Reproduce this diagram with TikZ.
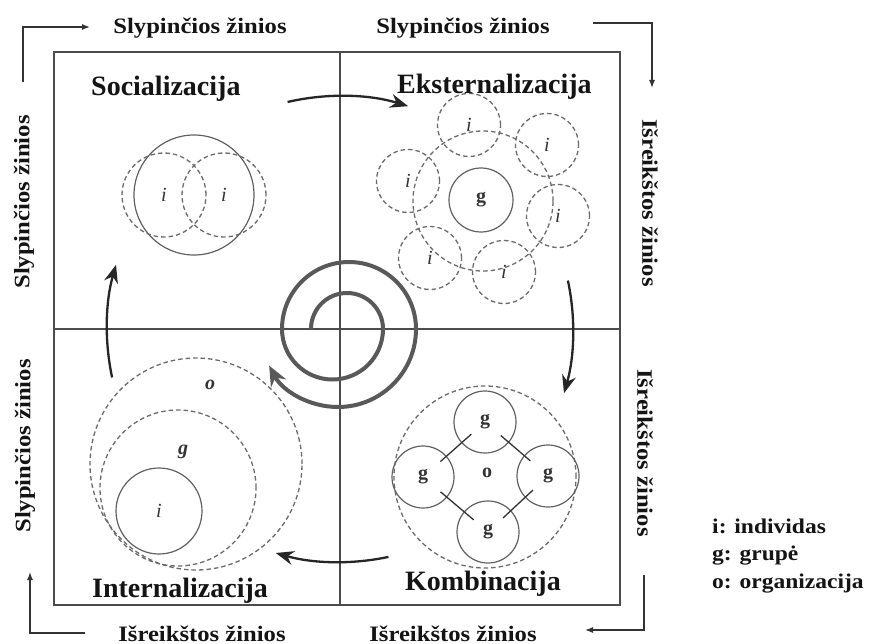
\documentclass[tikz,border=0pt]{standalone}
\usepackage{fontspec}
\setmainfont{Liberation Serif}
\newfontfamily\axf[FakeStretch=1.12]{Liberation Serif}
\usetikzlibrary{arrows.meta,calc}
\begin{document}
\begin{tikzpicture}[x=1pt,y=-1pt,
  frameline/.style={draw=black!70,line width=1.1pt},
  solidc/.style={circle,draw=black!62,line width=1.2pt,inner sep=0pt,font=\fontsize{20}{20}\selectfont,text=black!80},
  dashc/.style={circle,draw=black!58,line width=1.3pt,dash pattern=on 4.5pt off 3pt,inner sep=0pt,font=\fontsize{20}{20}\selectfont,text=black!80},
  ttl/.style={font=\fontsize{28}{30}\selectfont\bfseries,anchor=base west,text=black!92,inner sep=0pt},
  axislab/.style={font=\axf\fontsize{22}{24}\selectfont\bfseries,text=black!92,inner sep=0pt},
  leg/.style={font=\axf\fontsize{21}{24}\selectfont\bfseries,text=black!92,anchor=base west,inner sep=0pt},
  cornerarrow/.style={draw=black!80,line width=1.3pt,-{Latex[length=8pt,width=6pt]}},
  cyc/.style={draw=black!85,line width=2.3pt,-{Stealth[length=18pt,width=14pt]}},
  spiralline/.style={draw=black!65,line width=4pt,-{Stealth[length=20pt,width=17pt]}},
  linkline/.style={draw=black!80,line width=1.3pt}
]
\useasboundingbox (0,0) rectangle (882,644);
\fill[white] (0,0) rectangle (882,644);

% frame and cross
\draw[frameline] (54,52) rectangle (620,605);
\coordinate (C) at (340,329);
\draw[frameline] (340,52) -- (340,605);
\draw[frameline] (54,329) -- (620,329);

% titles
\node[ttl] (tsoc) at (91,96) {Socializacija};
\node[ttl] (text) at (397,94) {Eksternalizacija};
\node[ttl] (tint) at (92,597) {Internalizacija};
\node[ttl] (tkom) at (405,590) {Kombinacija};

% axis labels
\node[axislab,anchor=base] (atl) at (200,34) {Slypinčios žinios};
\node[axislab,anchor=base] (atr) at (463,34) {Slypinčios žinios};
\node[axislab,anchor=base] (abl) at (202,641) {Išreikštos žinios};
\node[axislab,anchor=base] (abr) at (453,641) {Išreikštos žinios};
\node[axislab,rotate=90] (alt) at (24,202) {Slypinčios žinios};
\node[axislab,rotate=90] (alb) at (25,446) {Slypinčios žinios};
\node[axislab,rotate=-90] (art) at (650,203) {Išreikštos žinios};
\node[axislab,rotate=-90] (arb) at (645,453) {Išreikštos žinios};

% corner arrows
\coordinate (k1a) at (23,82); \coordinate (k1b) at (23,27); \coordinate (k1c) at (90,27);
\draw[cornerarrow] (k1a) -- (k1b) -- (k1c);
\coordinate (k2a) at (593,23); \coordinate (k2b) at (652,23); \coordinate (k2c) at (652,88);
\draw[cornerarrow] (k2a) -- (k2b) -- (k2c);
\coordinate (k3a) at (644,575); \coordinate (k3b) at (644,630); \coordinate (k3c) at (585,630);
\draw[cornerarrow] (k3a) -- (k3b) -- (k3c);
\coordinate (k4a) at (85,633); \coordinate (k4b) at (30,633); \coordinate (k4c) at (30,572);
\draw[cornerarrow] (k4a) -- (k4b) -- (k4c);

% Socializacija
\node[solidc,minimum size=120pt] (soc) at (194,195) {};
\node[dashc,minimum size=84pt] (si1) at (164,195) {\itshape i};
\node[dashc,minimum size=84pt] (si2) at (224,195) {\itshape i};

% Eksternalizacija
\node[dashc,minimum size=140pt] (eg) at (483,201) {};
\node[solidc,minimum size=64pt] (eg0) at (481,200) {\bfseries g};
\node[dashc,minimum size=63pt] (ei1) at (469,125) {\itshape i};
\node[dashc,minimum size=63pt] (ei2) at (547,145) {\itshape i};
\node[dashc,minimum size=63pt] (ei3) at (408,181) {\itshape i};
\node[dashc,minimum size=63pt] (ei4) at (558,216) {\itshape i};
\node[dashc,minimum size=63pt] (ei5) at (430,258) {\itshape i};
\node[dashc,minimum size=63pt] (ei6) at (504,272) {\itshape i};

% Kombinacija
\node[dashc,minimum size=182pt] (ko) at (485,477) {};
\node[font=\fontsize{20}{20}\selectfont\bfseries,text=black!80] (kol) at (487,473) {o};
\node[solidc,minimum size=62pt] (kgt) at (485,422) {\bfseries g};
\node[solidc,minimum size=62pt] (kgl) at (423,477) {\bfseries g};
\node[solidc,minimum size=62pt] (kgr) at (548,476) {\bfseries g};
\node[solidc,minimum size=62pt] (kgb) at (488,532) {\bfseries g};
\draw[linkline] ($(kgt)!0.22!(kgl)$) -- ($(kgt)!0.72!(kgl)$);
\draw[linkline] ($(kgt)!0.25!(kgr)$) -- ($(kgt)!0.72!(kgr)$);
\draw[linkline] ($(kgl)!0.27!(kgb)$) -- ($(kgl)!0.78!(kgb)$);
\draw[linkline] ($(kgr)!0.25!(kgb)$) -- ($(kgr)!0.75!(kgb)$);

% Internalizacija
\node[dashc,minimum size=212pt] (io) at (196,464) {};
\node[dashc,minimum size=156pt] (ig) at (178,488) {};
\node[solidc,minimum size=86pt] (ii) at (159,511) {\itshape i};
\node[font=\fontsize{20}{20}\selectfont\bfseries\itshape,text=black!80] (iol) at (210,385) {o};
\node[font=\fontsize{20}{20}\selectfont\bfseries\itshape,text=black!80] (igl) at (183,452) {g};

% cycle arrows
\draw[cyc] ($(C)+(-103:233)$) arc[start angle=-103,end angle=-73,radius=233];
\draw[cyc] ($(C)+(-12:233)$) arc[start angle=-12,end angle=16,radius=233];
\draw[cyc] ($(C)+(78:233)$) arc[start angle=78,end angle=106,radius=233];
\draw[cyc] ($(C)+(168:233)$) arc[start angle=168,end angle=196,radius=233];

% spiral
\draw[spiralline] (311,329) arc[start angle=180,end angle=360,radius=36]
  arc[start angle=0,end angle=180,radius=50.5]
  arc[start angle=180,end angle=360,radius=67]
  arc[start angle=0,end angle=152,radius=78];

% legend
\node[leg] (l1) at (712,533) {i: individas};
\node[leg] (l2) at (712,560) {g: grupė};
\node[leg] (l3) at (712,588) {o: organizacija};
\end{tikzpicture}
\end{document}
